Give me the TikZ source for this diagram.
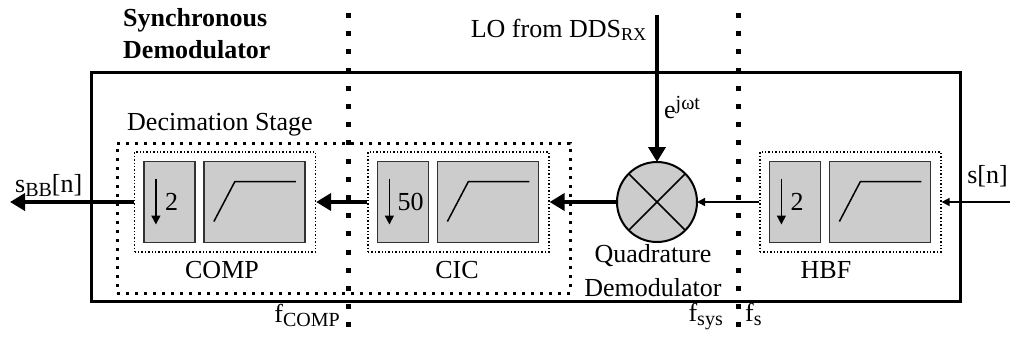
\documentclass[tikz,border=0pt]{standalone}
\usepackage{fontspec}
\setmainfont{Liberation Serif}
\usetikzlibrary{arrows.meta, positioning}

\begin{document}
\begin{tikzpicture}[
    x=1pt, y=-1pt,
    every node/.style={font=\fontsize{26}{31}\selectfont},
    txt/.style={inner sep=0pt},
    stage/.style={rectangle, draw, line width=1.2pt, dash pattern=on 1.4pt off 2pt,
        minimum width=181pt, minimum height=100pt, inner sep=0pt},
    decim/.style={rectangle, draw=black!80, line width=1.8pt, fill=gray!40,
        minimum width=51pt, minimum height=81pt, inner sep=0pt, outer sep=0pt},
    lpf/.style={decim, minimum width=101pt},
    mixer/.style={circle, draw, line width=2pt, fill=gray!40, minimum size=80pt,
        inner sep=0pt, outer sep=0pt},
    rate/.style={line width=5pt, dash pattern=on 5pt off 13.2pt},
    sig/.style={line width=4pt, -{Triangle[length=15pt, width=17pt]}},
    thinsig/.style={line width=1.5pt, -{Triangle[length=8pt, width=8pt]}},
    decarrow/.style={line width=1.5pt, -{Triangle[length=9pt, width=9pt]}}
]
\useasboundingbox (0,0) rectangle (1010,340);

% Frame and sample rate boundaries
\node[draw, line width=3pt, minimum width=869pt, minimum height=229pt, inner sep=0pt]
    (frame) at (525.5,186.5) {};
\draw[rate] (348,13) -- (348,340);
\draw[rate] (738,13) -- (738,340);

\node[txt, anchor=base west, font=\fontsize{26}{31}\selectfont\bfseries] (title1) at (123,27) {Synchronous};
\node[txt, anchor=base west, font=\fontsize{26}{31}\selectfont\bfseries] (title2) at (123,58) {Demodulator};

% Decimation stage
\node[draw, line width=3pt, dash pattern=on 3pt off 6pt, minimum width=453pt,
    minimum height=150pt, inner sep=0pt] (decstage) at (343.5,218) {};
\node[txt, anchor=base west] (declbl) at (127,130) {Decimation Stage};

% COMP
\node[stage] (comp) at (225,202) {};
\node[decim, anchor=west] (dcomp) at ([xshift=10pt]comp.west) {};
\node[lpf, right=9pt of dcomp] (fcomp) {};
\draw[decarrow] ([shift={(12,17)}]dcomp.north west) -- ([shift={(12,-18)}]dcomp.south west);
\node[txt, anchor=west] (ncomp) at ([xshift=21pt]dcomp.west) {2};
\draw[line width=1.5pt] ([shift={(10,-21)}]fcomp.south west) -- ([shift={(31,20)}]fcomp.north west)
    -- ([shift={(-9,20)}]fcomp.north east);
\node[txt, anchor=base] (lcomp) at (222,278) {COMP};

% CIC
\node[stage] (cic) at (458.5,202) {};
\node[decim, anchor=west] (dcic) at ([xshift=10pt]cic.west) {};
\node[lpf, right=9pt of dcic] (fcic) {};
\draw[decarrow] ([shift={(12,17)}]dcic.north west) -- ([shift={(12,-18)}]dcic.south west);
\node[txt, anchor=west] (ncic) at ([xshift=20pt]dcic.west) {50};
\draw[line width=1.5pt] ([shift={(10,-21)}]fcic.south west) -- ([shift={(31,20)}]fcic.north west)
    -- ([shift={(-9,20)}]fcic.north east);
\node[txt, anchor=base] (lcic) at (457,278) {CIC};

% HBF
\node[stage] (hbf) at (850.5,202) {};
\node[decim, anchor=west] (dhbf) at ([xshift=10pt]hbf.west) {};
\node[lpf, right=9pt of dhbf] (fhbf) {};
\draw[decarrow] ([shift={(12,17)}]dhbf.north west) -- ([shift={(12,-18)}]dhbf.south west);
\node[txt, anchor=west] (nhbf) at ([xshift=21pt]dhbf.west) {2};
\draw[line width=1.5pt] ([shift={(10,-21)}]fhbf.south west) -- ([shift={(31,20)}]fhbf.north west)
    -- ([shift={(-9,20)}]fhbf.north east);
\node[txt, anchor=base] (lhbf) at (826,278) {HBF};

% Quadrature demodulator
\node[mixer] (mix) at (657,202) {};
\draw[line width=1.5pt] (mix.north west) -- (mix.south east);
\draw[line width=1.5pt] (mix.north east) -- (mix.south west);
\node[txt, anchor=base] (quad1) at (653,262) {Quadrature};
\node[txt, anchor=base] (quad2) at (653,296) {Demodulator};

% Signals
\coordinate (lo) at (657,15);
\coordinate (sout) at (10,202);
\coordinate (sin) at (1010,202);

\draw[sig] (lo) -- (mix.north);
\draw[sig] (mix.west) -- (cic.east);
\draw[sig] (cic.west) -- (comp.east);
\draw[sig] (comp.west) -- (sout);
\draw[thinsig] (hbf.west) -- (mix.east);
\draw[thinsig] (sin) -- (hbf.east);

% Labels
\node[txt, anchor=base east] (lolbl) at (647,37) {LO from DDS\textsubscript{RX}};
\node[txt, anchor=base west] (ejwt) at (664,118) {e\raisebox{9pt}{\fontsize{20}{24}\selectfont jωt}};
\node[txt, anchor=base west] (soutlbl) at (15,192) {s\raisebox{-4pt}{\fontsize{20}{24}\selectfont BB}[n]};
\node[txt, anchor=base east] (sinlbl) at (1008,183) {s[n]};
\node[txt, anchor=base east] (fcomplbl) at (340,322) {f\raisebox{-4pt}{\fontsize{20}{24}\selectfont COMP}};
\node[txt, anchor=base east] (fsyslbl) at (723,321) {f\raisebox{-4pt}{\fontsize{20}{24}\selectfont sys}};
\node[txt, anchor=base west] (fslbl) at (745,321) {f\raisebox{-4pt}{\fontsize{20}{24}\selectfont s}};

\end{tikzpicture}
\end{document}
